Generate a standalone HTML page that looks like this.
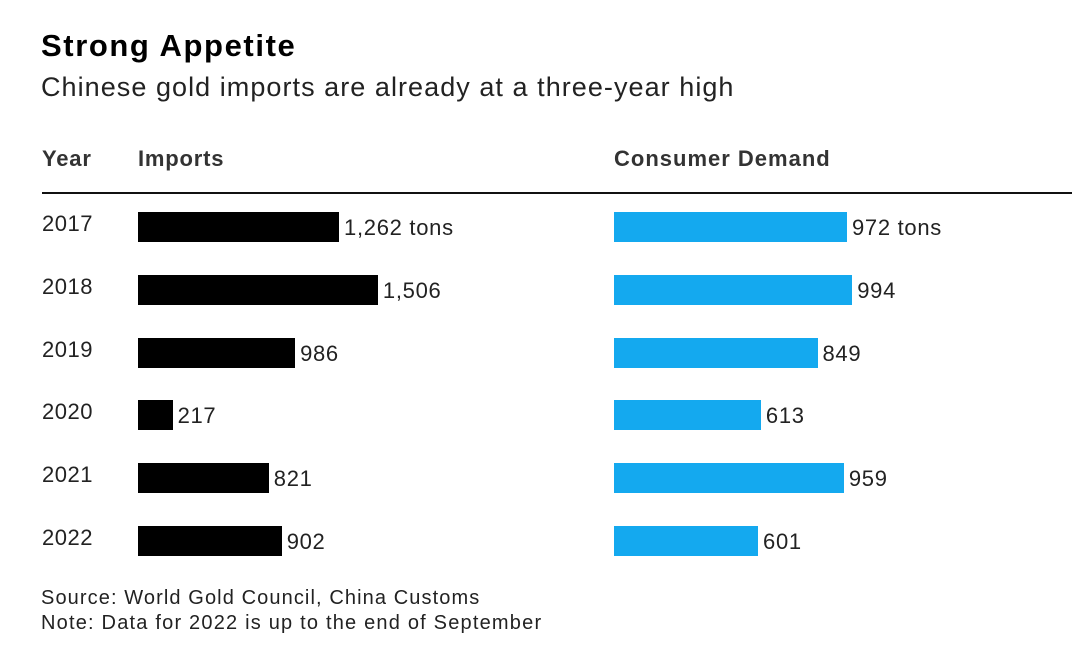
<!DOCTYPE html>
<html><head><meta charset="utf-8"><style>
body{margin:0;background:#fff;font-family:"Liberation Sans",sans-serif;color:#1a1a1a}
#c{position:relative;width:1080px;height:660px;overflow:hidden}
.t{position:absolute;white-space:nowrap}
</style></head><body>
<div id="c">
<div class="t" style="left:41px;top:28px;font-size:31px;font-weight:bold;color:#000;letter-spacing:1.6px">Strong Appetite</div>
<div class="t" style="left:41px;top:72px;font-size:27px;color:#222;letter-spacing:1.05px">Chinese gold imports are already at a three-year high</div>
<div class="t" style="left:42px;top:146px;font-size:22px;font-weight:bold;color:#333;letter-spacing:0.8px">Year</div>
<div class="t" style="left:138px;top:146px;font-size:22px;font-weight:bold;color:#333;letter-spacing:0.8px">Imports</div>
<div class="t" style="left:614px;top:146px;font-size:22px;font-weight:bold;color:#333;letter-spacing:1px">Consumer Demand</div>
<div style="position:absolute;left:42px;top:192px;width:1030px;height:2px;background:#111"></div>
<div class="t" style="left:41px;top:587px;font-size:20px;color:#222;letter-spacing:1.1px">Source: World Gold Council, China Customs</div>
<div class="t" style="left:41px;top:612px;font-size:20px;color:#222;letter-spacing:1.2px">Note: Data for 2022 is up to the end of September</div>
</div>
<script>
const years=["2017","2018","2019","2020","2021","2022"];
const imports=[1262,1506,986,217,821,902];
const demand=[972,994,849,613,959,601];
const importLabels=["1,262 tons","1,506","986","217","821","902"];
const demandLabels=["972 tons","994","849","613","959","601"];
const c=document.getElementById('c');
const rowY=i=>227+i*62.8;
const xImp=v=>v*0.1593;
const xDem=v=>v*0.2397;
function add(css,txt){const d=document.createElement('div');d.style.cssText=css;if(txt!=null){d.className='t';d.textContent=txt;}c.appendChild(d);return d;}
years.forEach((y,i)=>{
 const cy=rowY(i);
 const yl=add(`left:42px;top:${cy-16}px;font-size:22px;color:#222;letter-spacing:0.5px`,y);
 
 
 const wi=xImp(imports[i]);
 const bi=add(`position:absolute;left:138px;top:${cy-15}px;width:${wi}px;height:30px;background:#000`);
 
 
 const li=add(`left:${138+wi+5}px;top:${cy-12}px;font-size:22px;color:#222;letter-spacing:0.7px`,importLabels[i]);
 
 
 const wd=xDem(demand[i]);
 const bd=add(`position:absolute;left:614px;top:${cy-15}px;width:${wd}px;height:30px;background:#14a9ef`);
 
 
 const ld=add(`left:${614+wd+5}px;top:${cy-12}px;font-size:22px;color:#222;letter-spacing:0.7px`,demandLabels[i]);
 
 
});
</script>
</body></html>
